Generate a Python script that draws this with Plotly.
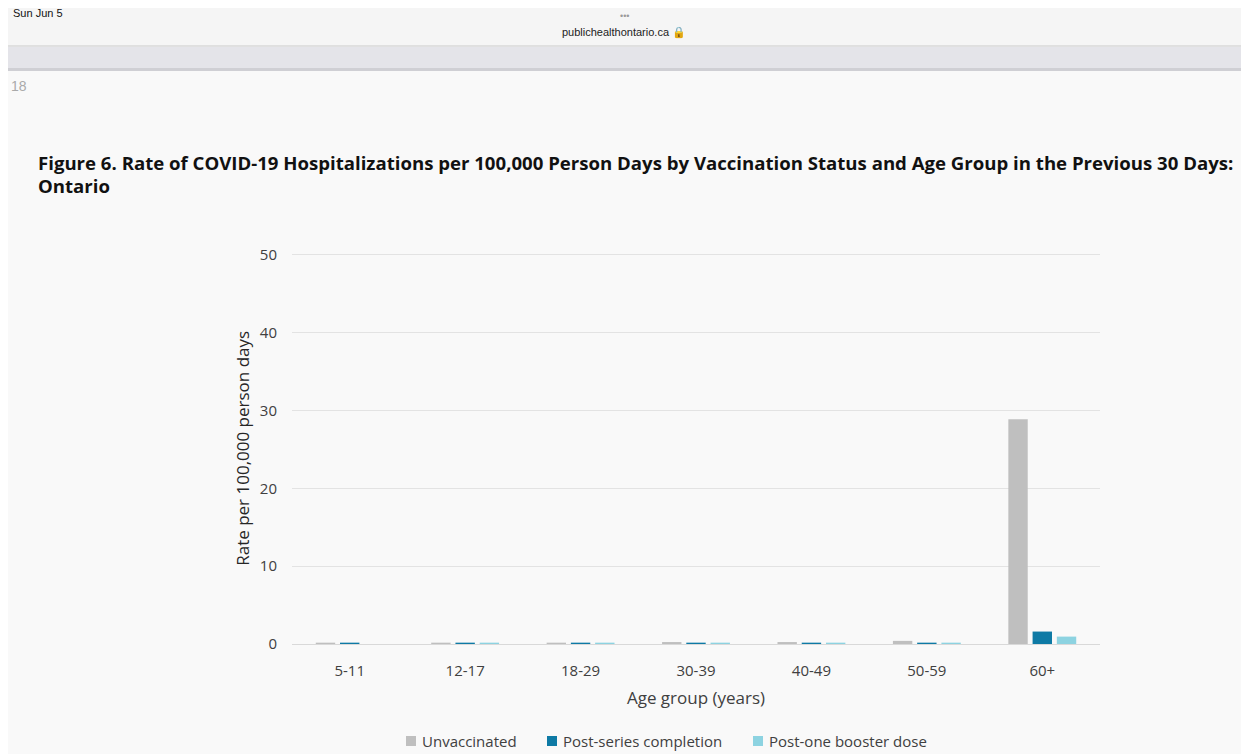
import plotly.graph_objects as go

categories = ["5-11", "12-17", "18-29", "30-39", "40-49", "50-59", "60+"]
unvaccinated = [0.1, 0.1, 0.1, 0.25, 0.25, 0.4, 28.9]
post_series = [0.1, 0.1, 0.1, 0.1, 0.1, 0.1, 1.6]
post_booster = [None, 0.1, 0.1, 0.1, 0.1, 0.1, 0.95]
y_ticks = [0, 10, 20, 30, 40, 50]
series_names = ["Unvaccinated", "Post-series completion", "Post-one booster dose"]
series_colors = ["#BFBFBF", "#0E7AA5", "#8DD3E1"]

# page body has an 8px margin, so figure coords = screen coords - 8
OFF = 8
W, H = 1249 - OFF, 754 - OFF
def px(x):
    return (x - OFF) / W
def py(y):
    return 1 - (y - OFF) / H

fig = go.Figure()
for name, vals, col in zip(series_names, [unvaccinated, post_series, post_booster], series_colors):
    fig.add_trace(go.Bar(x=categories, y=vals, name=name, marker=dict(color=col, line=dict(width=0))))

font_main = "Open Sans, sans-serif"
y0_px, y50_px = 644, 255
ppu = (y0_px - y50_px) / 50.0
ytop = 50.3
fig.update_layout(
    width=W, height=H,
    margin=dict(l=0, r=0, t=0, b=0, autoexpand=False),
    paper_bgcolor="#F9F9F9",
    plot_bgcolor="#F9F9F9",
    barmode="group",
    bargap=0.37,
    bargroupgap=0.2,
    showlegend=False,
    xaxis=dict(domain=[px(292), px(1100)], showgrid=False, showline=True, linecolor="#D9D9D9",
               ticks="", tickfont=dict(family=font_main, size=15, color="#404040"), ticklabelstandoff=13,
               title=dict(text="Age group (years)", font=dict(family=font_main, size=17, color="#404040"), standoff=13),
               fixedrange=True),
    yaxis=dict(domain=[py(y0_px), py(y50_px - (ytop - 50) * ppu)], range=[0, ytop], tickvals=y_ticks, showgrid=True,
               gridcolor="#E3E3E3", zeroline=False, showline=False, ticks="",
               tickfont=dict(family=font_main, size=15, color="#404040"), ticklabelstandoff=14,
               title=dict(text="Rate per 100,000 person days", font=dict(family=font_main, size=17, color="#262626"), standoff=5),
               fixedrange=True),
)

shapes = [
    dict(type="rect", xref="paper", yref="paper", x0=0, x1=1, y0=py(46), y1=1, fillcolor="#F5F5F5", line=dict(width=0), layer="below"),
    dict(type="line", xref="paper", yref="paper", x0=0, x1=1, y0=py(46), y1=py(46), line=dict(color="#C8C8C8", width=1)),
    dict(type="rect", xref="paper", yref="paper", x0=0, x1=1, y0=py(68), y1=py(47), fillcolor="#E4E4E9", line=dict(width=0), layer="below"),
    dict(type="rect", xref="paper", yref="paper", x0=0, x1=1, y0=py(71), y1=py(68), fillcolor="#CFCFD4", line=dict(width=0), layer="below"),
]

# manual legend (swatch + label), matching the reference spacing
legend_y = 741
legend_swatch_x = [406, 547, 753]
ann = []
for sx, name, col in zip(legend_swatch_x, series_names, series_colors):
    shapes.append(dict(type="rect", xref="paper", yref="paper", x0=px(sx), x1=px(sx + 10),
                       y0=py(legend_y + 5), y1=py(legend_y - 5), fillcolor=col, line=dict(width=0)))
    ann.append(dict(text=name, x=px(sx + 14), y=py(legend_y), xanchor="left", yanchor="middle",
                    font=dict(family=font_main, size=15, color="#404040")))
fig.update_layout(shapes=shapes)

ann += [
    dict(text="Sun Jun 5", x=px(11), y=py(13), xanchor="left", yanchor="middle", font=dict(family="Liberation Sans", size=11, color="#111111")),
    dict(text="•••", x=px(624), y=py(16), xanchor="center", yanchor="middle", font=dict(family="Liberation Sans", size=9, color="#9A9A9A")),
    dict(text="publichealthontario.ca 🔒", x=px(624), y=py(32), xanchor="center", yanchor="middle", font=dict(family="Liberation Sans", size=11, color="#222222")),
    dict(text="18", x=px(9), y=py(86), xanchor="left", yanchor="middle", font=dict(family="Liberation Sans", size=14, color="#AAAAAA")),
    dict(text="<b>Figure 6. Rate of COVID-19 Hospitalizations per 100,000 Person Days by Vaccination Status and Age Group in the Previous 30 Days:</b>",
         x=px(36), y=py(162), xanchor="left", yanchor="middle", font=dict(family=font_main, size=18.6, color="#111111")),
    dict(text="<b>Ontario</b>", x=px(36), y=py(185), xanchor="left", yanchor="middle", font=dict(family=font_main, size=18.6, color="#111111")),
]
for a in ann:
    a.update(xref="paper", yref="paper", showarrow=False)
fig.update_layout(annotations=ann)

fig.write_html("out.html")
